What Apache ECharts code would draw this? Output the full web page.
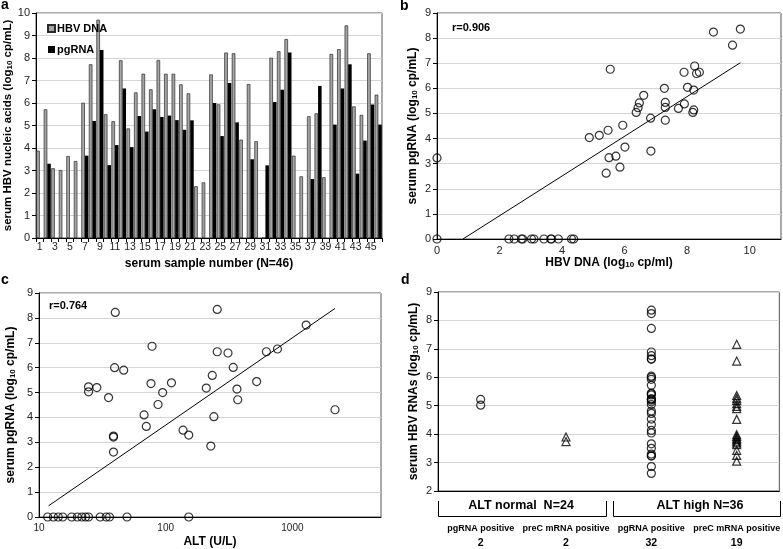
<!DOCTYPE html>
<html>
<head>
<meta charset="utf-8">
<script src="https://cdn.jsdelivr.net/npm/echarts@6/dist/echarts.min.js"></script>
<style>
html,body{margin:0;padding:0;background:#fff;}
#chart{width:783px;height:549px;}
</style>
</head>
<body>
<div id="chart"></div>
<script>
// ---------- Panel a: bar chart ----------
const sampleNumbers = ['1','2','3','4','5','6','7','8','9','10','11','12','13','14','15','16','17','18','19','20','21','22','23','24','25','26','27','28','29','30','31','32','33','34','35','36','37','38','39','40','41','42','43','44','45','46'];
const hbvDna = [3.88,5.72,3.10,3.02,3.64,3.42,6.01,7.72,9.70,5.50,
                5.19,7.90,4.87,6.47,7.30,6.61,7.91,7.30,7.30,6.83,
                6.43,2.30,2.47,7.27,5.94,8.24,8.21,4.37,6.84,4.30,
                0,8.01,8.30,8.84,3.66,2.74,5.41,5.54,2.70,8.18,
                8.39,9.45,5.85,5.47,8.21,6.37];
const pgRna  = [0,3.30,0,0,0,0,3.66,5.20,8.36,3.24,
                4.13,6.64,4.04,5.42,4.73,5.72,5.38,5.44,5.24,4.81,
                5.23,0,0,6.00,4.53,6.89,5.14,0,3.50,0,
                3.23,6.04,6.59,8.24,0,0,2.62,6.76,0,5.04,
                6.64,7.72,2.86,4.33,5.93,5.04];

// ---------- Panel b: extra point + regression line ----------
const bExtraPoints = [[0,0]];
const bRegLine = [[0.83,0],[9.70,7.02]];
const bCorr = 'r=0.906';

// ---------- Panel c: ALT vs pgRNA ----------
const altValues = [40,24.6,24.6,28.6,35.4,39.5,46.6,38.7,38.7,38.7,
                   78,76.5,111,94.6,87,67.5,70.3,137,152,
                   255,255,310,341,233,209,365,370,522,623,762,1283,240,227,2168,
                   11.7,13.0,14.2,15.4,18.1,20.1,21.8,23.3,24.6,30.4,33.9,36.0,49.5,152];
const altPgRna = [8.22,5.23,5.03,5.20,4.80,6.00,5.90,3.25,3.21,2.61,
                  6.86,5.36,5.39,5.00,4.52,4.10,3.64,3.49,3.29,
                  8.34,6.64,6.59,6.01,5.69,5.18,5.14,4.71,5.44,6.64,6.75,7.71,4.03,2.85,4.31,
                  0,0,0,0,0,0,0,0,0,0,0,0,0,0];
const cRegLine = [[11.9,0.45],[2168,8.38]];
const cCorr = 'r=0.764';

// ---------- Panel d: RNAs by ALT group ----------
const dCategories = ['pgRNA positive','preC mRNA positive','pgRNA positive','preC mRNA positive'];
const dCounts = ['2','2','32','19'];
const dGroups = ['ALT normal  N=24','ALT high N=36'];
const normalPgRna = [5.22,5.02];
const normalPreC  = [3.90,3.74];
const highPgRna = [8.36,8.24,7.72,6.89,6.76,6.64,6.64,6.04,6.00,5.93,
                   5.72,5.44,5.42,5.38,5.24,5.23,5.20,5.14,5.04,4.81,
                   4.73,4.53,4.33,4.13,4.04,3.66,3.50,3.30,3.24,3.23,
                   2.86,2.62];
const highPreC = [7.16,6.57,5.36,5.27,5.19,5.07,4.98,4.90,4.52,3.98,
                  3.92,3.86,3.81,3.75,3.69,3.63,3.43,3.25,3.05];

// ---------- build option ----------
const FONT = '"Liberation Sans", Arial, sans-serif';
function subRich(){ return {s:{fontSize:8, fontWeight:'bold', fontFamily:FONT, verticalAlign:'bottom', padding:[4,0,0,0], color:'#000'}}; }
function nameStyle(sz){ return {fontSize:sz||12, fontWeight:'bold', fontFamily:FONT, color:'#000', rich:subRich()}; }
const labelStyle = {fontSize:11, color:'#222', fontFamily:FONT};
const splitGrey = {show:true, lineStyle:{color:'#d4d4d4', width:1}};
const blackLine = {show:true, lineStyle:{color:'#000', width:1}};
const hollowCircle = {color:'rgba(0,0,0,0)', borderColor:'#000', borderWidth:1.2};

const bPoints = hbvDna.map((v,i)=>[v,pgRna[i]]).concat(bExtraPoints);
const cPoints = altValues.map((v,i)=>[v,altPgRna[i]]);
const dKeys = dCategories.map((c,i)=>c+'#'+i);

const option = {
  animation:false,
  textStyle:{fontFamily:FONT},
  grid:[
    {left:36, top:13, width:346, height:225, show:true, borderColor:'#555', borderWidth:1},
    {left:437, top:13, width:344, height:226, show:true, borderColor:'#555', borderWidth:1},
    {left:39, top:293, width:342, height:224, show:true, borderColor:'#555', borderWidth:1},
    {left:438, top:292, width:343, height:199, show:true, borderColor:'#555', borderWidth:1}
  ],
  legend:{
    data:['HBV DNA','pgRNA'], orient:'vertical', left:42, top:18,
    itemWidth:7, itemHeight:7, itemGap:10, icon:'rect',
    textStyle:{fontSize:11, fontWeight:'bold', fontFamily:FONT, color:'#000', padding:[0,0,0,-3]}
  },
  xAxis:[
    {gridIndex:0, type:'category', data:sampleNumbers,
     name:'serum sample number (N=46)', nameLocation:'middle', nameGap:20, nameTextStyle:nameStyle(12),
     axisLine:blackLine, axisTick:{show:true, interval:0, length:4, lineStyle:{color:'#000'}},
     axisLabel:Object.assign({interval:1, margin:4}, labelStyle, {fontSize:10.5}), splitLine:{show:false}},
    {gridIndex:1, type:'value', min:0, max:11, interval:2,
     name:'HBV DNA (log{s|10} cp/ml)', nameLocation:'middle', nameGap:18, nameTextStyle:nameStyle(12),
     axisLine:blackLine, axisTick:{show:false}, axisLabel:Object.assign({margin:6, showMaxLabel:false}, labelStyle), splitLine:{show:false}},
    {gridIndex:2, type:'log', logBase:10, min:10, max:5000,
     name:'ALT (U/L)', nameLocation:'middle', nameGap:19, nameTextStyle:nameStyle(12),
     axisLine:blackLine, axisTick:{show:false},
     axisLabel:Object.assign({margin:6, showMaxLabel:false, formatter:v=>String(Math.round(v))}, labelStyle, {fontSize:10}),
     splitLine:{show:false}, minorSplitLine:{show:false}},
    {gridIndex:3, type:'category', data:dKeys, boundaryGap:true,
     axisLine:blackLine, axisTick:{show:false},
     axisLabel:{interval:0, margin:31, formatter:(v,i)=>'{t|'+dCategories[i]+'}\n{n|'+dCounts[i]+'}',
       rich:{t:{fontSize:9, fontWeight:'bold', fontFamily:FONT, color:'#000', lineHeight:14},
             n:{fontSize:10.5, fontWeight:'bold', fontFamily:FONT, color:'#000', lineHeight:14}}},
     splitLine:{show:false}}
  ],
  yAxis:[
    {gridIndex:0, type:'value', min:0, max:10, interval:1,
     name:'serum HBV nucleic acids (log{s|10} cp/mL)', nameLocation:'middle', nameGap:19, nameTextStyle:nameStyle(11.5),
     axisLine:blackLine, axisTick:{show:true, length:4, lineStyle:{color:'#000'}}, axisLabel:Object.assign({margin:6}, labelStyle), splitLine:splitGrey},
    {gridIndex:1, type:'value', min:0, max:9, interval:1,
     name:'serum pgRNA (log{s|10} cp/mL)', nameLocation:'middle', nameGap:18, nameTextStyle:nameStyle(12),
     axisLine:blackLine, axisTick:{show:true, length:4, lineStyle:{color:'#000'}}, axisLabel:Object.assign({margin:6}, labelStyle), splitLine:splitGrey},
    {gridIndex:2, type:'value', min:0, max:9, interval:1,
     name:'serum pgRNA (log{s|10} cp/mL)', nameLocation:'middle', nameGap:22, nameTextStyle:nameStyle(12),
     axisLine:blackLine, axisTick:{show:true, length:4, lineStyle:{color:'#000'}}, axisLabel:Object.assign({margin:6}, labelStyle), splitLine:splitGrey},
    {gridIndex:3, type:'value', min:2, max:9, interval:1,
     name:'serum HBV RNAs (log{s|10} cp/mL)', nameLocation:'middle', nameGap:18, nameTextStyle:nameStyle(12),
     axisLine:blackLine, axisTick:{show:true, length:4, lineStyle:{color:'#000'}}, axisLabel:Object.assign({margin:6}, labelStyle), splitLine:splitGrey}
  ],
  series:[
    {name:'HBV DNA', type:'bar', xAxisIndex:0, yAxisIndex:0, data:hbvDna, barGap:'0%', barCategoryGap:'6%',
     itemStyle:{color:'#a6a6a6', borderColor:'#2a2a2a', borderWidth:0.7}},
    {name:'pgRNA', type:'bar', xAxisIndex:0, yAxisIndex:0, data:pgRna, barGap:'0%', barCategoryGap:'6%',
     itemStyle:{color:'#000', borderColor:'#000', borderWidth:0}},
    {type:'scatter', xAxisIndex:1, yAxisIndex:1, data:bPoints, symbol:'circle', symbolSize:8, clip:false,
     itemStyle:hollowCircle, z:5},
    {type:'line', xAxisIndex:1, yAxisIndex:1, data:bRegLine, symbol:'none', lineStyle:{color:'#000', width:1}},
    {type:'scatter', xAxisIndex:2, yAxisIndex:2, data:cPoints, symbol:'circle', symbolSize:8, clip:false,
     itemStyle:hollowCircle, z:5},
    {type:'line', xAxisIndex:2, yAxisIndex:2, data:cRegLine, symbol:'none', lineStyle:{color:'#000', width:1}},
    {type:'scatter', xAxisIndex:3, yAxisIndex:3, data:normalPgRna.map(v=>[0,v]), symbol:'circle', symbolSize:8, itemStyle:hollowCircle},
    {type:'scatter', xAxisIndex:3, yAxisIndex:3, data:normalPreC.map(v=>[1,v]), symbol:'triangle', symbolSize:8, itemStyle:hollowCircle},
    {type:'scatter', xAxisIndex:3, yAxisIndex:3, data:highPgRna.map(v=>[2,v]), symbol:'circle', symbolSize:8, itemStyle:hollowCircle},
    {type:'scatter', xAxisIndex:3, yAxisIndex:3, data:highPreC.map(v=>[3,v]), symbol:'triangle', symbolSize:8, itemStyle:hollowCircle}
  ],
  graphic:[
    {type:'text', left:1, top:-2, style:{text:'a', font:'bold 14px '+FONT, fill:'#000'}},
    {type:'text', left:400, top:-1, style:{text:'b', font:'bold 14px '+FONT, fill:'#000'}},
    {type:'text', left:1, top:273, style:{text:'c', font:'bold 14px '+FONT, fill:'#000'}},
    {type:'text', left:401, top:273, style:{text:'d', font:'bold 14px '+FONT, fill:'#000'}},
    {type:'text', left:452, top:22, style:{text:bCorr, font:'bold 11px '+FONT, fill:'#000'}},
    {type:'text', left:49, top:300, style:{text:cCorr, font:'bold 11px '+FONT, fill:'#000'}},
    {type:'polyline', shape:{points:[[438.5,501],[438.5,516.5],[606.5,516.5],[606.5,501]]}, style:{stroke:'#000', lineWidth:1, fill:null}},
    {type:'polyline', shape:{points:[[613.5,501],[613.5,516.5],[780.5,516.5],[780.5,501]]}, style:{stroke:'#000', lineWidth:1, fill:null}},
    {type:'text', x:521, y:506, style:{text:dGroups[0], font:'bold 12.5px '+FONT, fill:'#000', textAlign:'center', textVerticalAlign:'middle'}},
    {type:'text', x:700, y:506, style:{text:dGroups[1], font:'bold 12.5px '+FONT, fill:'#000', textAlign:'center', textVerticalAlign:'middle'}}
  ]
};
const chart = echarts.init(document.getElementById('chart'), null, {renderer:'canvas'});
chart.setOption(option);
</script>
</body>
</html>
